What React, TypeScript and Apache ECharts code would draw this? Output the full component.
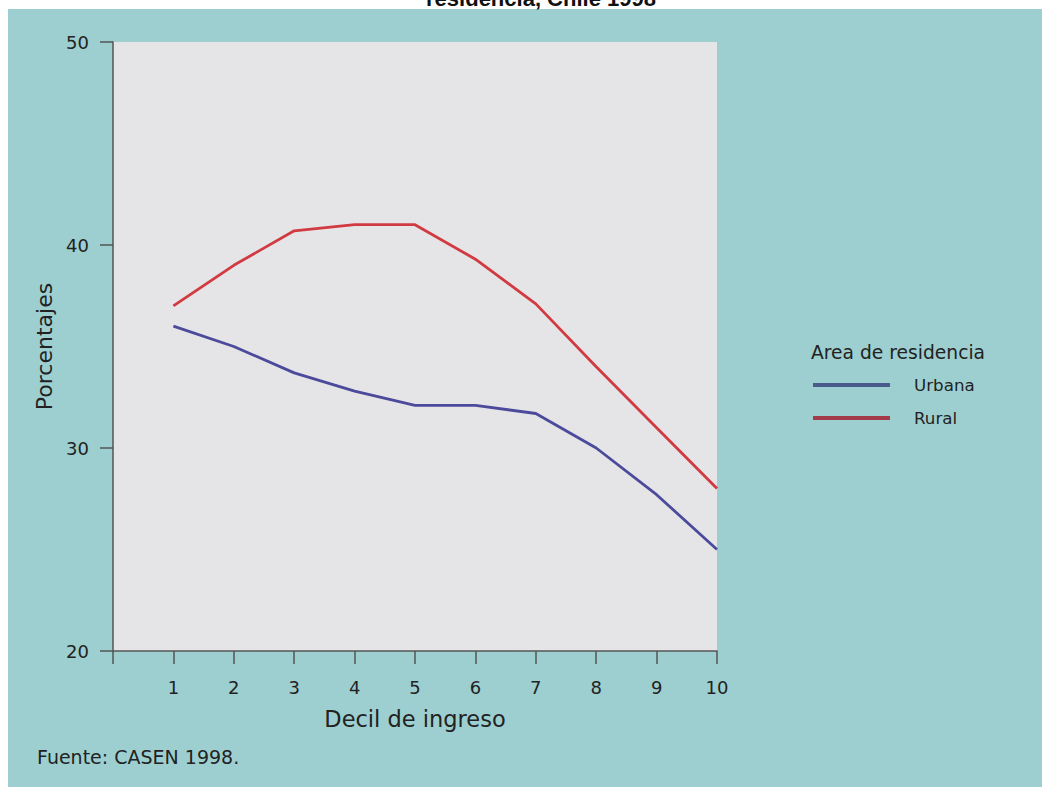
import React, { useEffect, useRef } from "react";
import * as echarts from "echarts";

const deciles = [1, 2, 3, 4, 5, 6, 7, 8, 9, 10];
const urbana = [36.0, 35.0, 33.7, 32.8, 32.1, 32.1, 31.7, 30.0, 27.7, 25.0];
const rural = [37.0, 39.0, 40.7, 41.0, 41.0, 39.3, 37.1, 34.0, 31.0, 28.0];
const seriesNames = ["Urbana", "Rural"];
const titleText = "residencia, Chile 1998";
const legendTitle = "Area de residencia";
const sourceText = "Fuente: CASEN 1998.";
const xName = "Decil de ingreso";
const yName = "Porcentajes";

const FONT = "DejaVu Sans, Liberation Sans, sans-serif";
const TITLE_FONT = "Liberation Sans, Arial, sans-serif";
const URB = "#4c4a9a";
const RUR = "#d13a40";

export default function App() {
  const ref = useRef<HTMLDivElement>(null);
  useEffect(() => {
    if (!ref.current) return;
    const chart = echarts.init(ref.current, undefined, { renderer: "svg" });
    const toPairs = (arr: number[]) => deciles.map((d, i) => [d, arr[i]]);
    chart.setOption({
      animation: false,
      backgroundColor: "#ffffff",
      textStyle: { fontFamily: FONT },
      graphic: [
        {
          type: "rect",
          z: -10,
          silent: true,
          shape: { x: 8, y: 9, width: 1034, height: 778 },
          style: { fill: "#9dcfd0" },
        },
        {
          type: "rect",
          z: -9,
          silent: true,
          shape: { x: 113, y: 42, width: 604, height: 609 },
          style: { fill: "#e5e5e8" },
        },
        {
          type: "text",
          x: 541,
          y: -13,
          z: 10,
          style: {
            text: titleText,
            font: `bold 22px ${TITLE_FONT}`,
            fill: "#111",
            align: "center",
            verticalAlign: "top",
          },
        },
        {
          type: "text",
          x: 811,
          y: 352,
          style: {
            text: legendTitle,
            font: `18.7px ${FONT}`,
            fill: "#222",
            verticalAlign: "middle",
          },
        },
        {
          type: "text",
          x: 37,
          y: 757,
          style: {
            text: sourceText,
            font: `19px ${FONT}`,
            fill: "#222",
            verticalAlign: "middle",
          },
        },
      ],
      grid: { left: 113, top: 42, right: 325, bottom: 136, containLabel: false },
      legend: {
        orient: "vertical",
        left: 808,
        top: 371,
        itemWidth: 77,
        itemHeight: 4,
        itemGap: 15,
        icon: "rect",
        data: [
          { name: seriesNames[0], itemStyle: { color: "#4a5a8c" } },
          { name: seriesNames[1], itemStyle: { color: "#a33c48" } },
        ],
        textStyle: {
          fontSize: 16.7,
          lineHeight: 18,
          color: "#222",
          fontFamily: FONT,
          padding: [0, 0, 0, 19],
        },
      },
      xAxis: {
        type: "value",
        min: 0,
        max: 10,
        interval: 1,
        name: xName,
        nameLocation: "middle",
        nameGap: 56,
        nameTextStyle: { fontSize: 22.5, color: "#222", fontFamily: FONT },
        splitLine: { show: false },
        axisLine: { show: true, lineStyle: { color: "#555", width: 1.5 } },
        axisTick: { show: true, length: 13, lineStyle: { color: "#555", width: 1.5 } },
        axisLabel: {
          margin: 27,
          fontSize: 18,
          color: "#222",
          fontFamily: FONT,
          formatter: (v: number) => (v === 0 ? "" : String(v)),
        },
      },
      yAxis: {
        type: "value",
        min: 20,
        max: 50,
        interval: 10,
        name: yName,
        nameLocation: "middle",
        nameGap: 56,
        nameTextStyle: { fontSize: 22, color: "#222", fontFamily: FONT },
        splitLine: { show: false },
        axisLine: { show: true, lineStyle: { color: "#555", width: 1.5 } },
        axisTick: { show: true, length: 13, lineStyle: { color: "#555", width: 1.5 } },
        axisLabel: { margin: 24, fontSize: 18, color: "#222", fontFamily: FONT },
      },
      series: [
        {
          name: seriesNames[0],
          type: "line",
          data: toPairs(urbana),
          symbol: "none",
          lineStyle: { color: URB, width: 2.8 },
          itemStyle: { color: URB },
        },
        {
          name: seriesNames[1],
          type: "line",
          data: toPairs(rural),
          symbol: "none",
          lineStyle: { color: RUR, width: 2.8 },
          itemStyle: { color: RUR },
        },
      ],
    });
    return () => chart.dispose();
  }, []);
  return (
    <div
      ref={ref}
      style={{ position: "absolute", left: 0, top: 0, width: 1042, height: 787 }}
    />
  );
}
